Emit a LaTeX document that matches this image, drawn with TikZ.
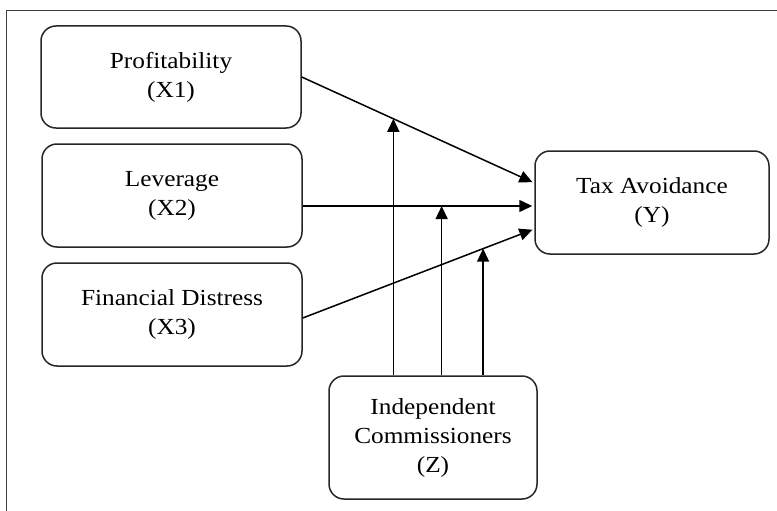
\documentclass[tikz,border=0pt]{standalone}
\usepackage{fontspec}
\setmainfont{Liberation Serif}[FakeStretch=1.1]
\usepackage{tikz}
\usetikzlibrary{arrows.meta, positioning, calc}
\tikzset{
    varbox/.style = {rectangle, rounded corners=15pt, align=center, draw=black!85, line width=1.5pt, fill=white,
                     font=\fontsize{23}{29}\selectfont},
    arrow/.style = {line width=1.5pt, -{Triangle[length=13pt, width=12pt]}, shorten >=2pt}
}

\begin{document}
\begin{tikzpicture}[x=1pt, y=-1pt]

\useasboundingbox (0,0) rectangle (777,511);

% ---- frame ----
\draw[black!75, line width=1pt] (6,511) -- (6,11) -- (777,11);

% ---- Independent variables (left) ----
\node[varbox, minimum width=260pt, minimum height=102pt] (prof) at (171,77) {Profitability\\(X1)};
\node[varbox, minimum width=260pt, minimum height=103pt] (lev) at (172,195.5) {Leverage\\(X2)};
\node[varbox, minimum width=260pt, minimum height=103pt] (fd) at (172,314.5) {Financial Distress\\(X3)};

% ---- Dependent variable (right) ----
\node[varbox, minimum width=234pt, minimum height=103pt] (tax) at (652,202.5) {Tax Avoidance\\(Y)};

% ---- Moderating variable (bottom) ----
\node[varbox, minimum width=208pt, minimum height=123pt] (ind) at (433,437.5) {Independent\\Commissioners\\(Z)};

% ---- Arrows ----
\coordinate (lev-out) at ([yshift=-10.5pt]lev.east);
\coordinate (fd-out) at ([yshift=-3.5pt]fd.east);
\coordinate (tax-in1) at ([yshift=19.5pt]tax.west);
\coordinate (tax-in2) at ([yshift=-3.5pt]tax.west);
\coordinate (tax-in3) at ([yshift=-26.5pt]tax.west);

\draw[arrow] (prof.east) -- (tax-in1);
\draw[arrow] (lev-out) -- (tax-in2);
\draw[arrow] (fd-out) -- (tax-in3);

% ---- Moderating arrows ----
\coordinate (m1) at ($(prof.east)!0.394!(tax-in1)$);
\coordinate (m2) at ($(lev-out)!0.6!(tax-in2)$);
\coordinate (m3) at ($(fd-out)!0.779!(tax-in3)$);

\draw[arrow, shorten >=0pt] (ind.north -| m1) -- (m1);
\draw[arrow, shorten >=0pt] (ind.north -| m2) -- (m2);
\draw[arrow, shorten >=0pt] (ind.north -| m3) -- (m3);

\end{tikzpicture}
\end{document}
